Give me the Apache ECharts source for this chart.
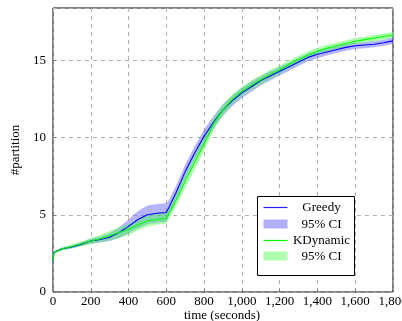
<!DOCTYPE html>
<html>
<head>
<meta charset="utf-8">
<script src="https://cdn.jsdelivr.net/npm/echarts@6/dist/echarts.min.js"></script>
<style>
  html, body { margin: 0; padding: 0; background: #fff; }
  #chart { width: 402px; height: 321px; }
</style>
</head>
<body>
<div id="chart"></div>
<script>
// time axis (seconds)
var times = [0, 5, 20, 50, 100, 150, 200, 250, 300, 350, 400, 450, 500, 550, 600, 615,
  650, 700, 750, 800, 850, 900, 950, 1000, 1050, 1100, 1150, 1200, 1250, 1300,
  1350, 1400, 1450, 1500, 1550, 1600, 1650, 1700, 1750, 1800];

// Greedy mean and CI half-width
var greedy = [2.0, 2.55, 2.65, 2.8, 2.92, 3.1, 3.3, 3.4, 3.55, 3.85, 4.25, 4.7, 5.0, 5.1, 5.15, 5.5,
  6.4, 7.8, 9.0, 10.1, 11.0, 11.8, 12.4, 12.9, 13.3, 13.7, 14.0, 14.3, 14.6, 14.9,
  15.2, 15.4, 15.55, 15.7, 15.85, 15.95, 16.0, 16.05, 16.15, 16.27];
var greedyCI = [0.05, 0.08, 0.08, 0.08, 0.1, 0.12, 0.15, 0.2, 0.25, 0.35, 0.45, 0.55, 0.6, 0.6, 0.6, 0.5,
  0.45, 0.45, 0.45, 0.45, 0.4, 0.38, 0.35, 0.33, 0.33, 0.3, 0.3, 0.28, 0.27, 0.25,
  0.25, 0.25, 0.23, 0.22, 0.22, 0.2, 0.2, 0.2, 0.2, 0.2];

// KDynamic mean and CI half-width
var kdyn = [2.0, 2.55, 2.64, 2.8, 2.95, 3.12, 3.3, 3.45, 3.65, 3.85, 4.05, 4.35, 4.6, 4.7, 4.78, 5.1,
  5.9, 7.2, 8.4, 9.6, 10.9, 11.8, 12.5, 13.0, 13.4, 13.75, 14.1, 14.4, 14.75, 15.05,
  15.35, 15.6, 15.8, 15.95, 16.1, 16.25, 16.35, 16.45, 16.55, 16.65];
var kdynCI = [0.05, 0.08, 0.08, 0.1, 0.12, 0.15, 0.2, 0.25, 0.3, 0.35, 0.35, 0.35, 0.35, 0.35, 0.35, 0.35,
  0.4, 0.45, 0.45, 0.45, 0.4, 0.35, 0.32, 0.3, 0.3, 0.3, 0.28, 0.27, 0.25, 0.25,
  0.25, 0.22, 0.22, 0.2, 0.2, 0.2, 0.2, 0.2, 0.2, 0.2];

function pairs(ys) {
  return times.map(function (t, i) { return [t, ys[i]]; });
}
function bandData(ys, ci) {
  return times.map(function (t, i) { return [t, ys[i] - ci[i], ys[i] + ci[i]]; });
}

var font = 'Liberation Serif';

// one polygon for the whole band, drawn when the first item is rendered
function band(name, data, color) {
  return {
    name: name, type: 'custom', silent: true, data: data,
    encode: { x: 0, y: [1, 2] },
    renderItem: function (params, api) {
      if (params.dataIndex !== 0) return null;
      var up = [], lo = [];
      for (var i = 0; i < data.length; i++) {
        up.push(api.coord([data[i][0], data[i][2]]));
        lo.unshift(api.coord([data[i][0], data[i][1]]));
      }
      return { type: 'polygon', shape: { points: up.concat(lo) }, style: { fill: color } };
    }
  };
}

var chart = echarts.init(document.getElementById('chart'));
chart.setOption({
  backgroundColor: '#fff',
  animation: false,
  grid: { left: 53, right: 9, top: 8, bottom: 29, outerBoundsMode: 'none', containLabel: false,
    show: true, borderColor: '#000', borderWidth: 1 },
  xAxis: {
    type: 'value', min: 0, max: 1800, interval: 200,
    axisLine: { show: false },
    axisTick: { inside: true, length: 3, lineStyle: { color: '#777' } },
    axisLabel: {
      fontFamily: font, fontSize: 13, color: '#000', margin: 3,
      formatter: function (v) { return v.toLocaleString('en-US'); }
    },
    splitLine: { lineStyle: { type: [4, 4], color: '#b0b0b0' } }
  },
  yAxis: {
    type: 'value', min: 0, max: 18.4, interval: 5,
    name: '#partition', nameLocation: 'middle', nameGap: 30,
    nameTextStyle: { fontFamily: font, fontSize: 13, color: '#000' },
    axisLine: { show: false },
    axisTick: { inside: true, length: 3, lineStyle: { color: '#777' } },
    axisLabel: { fontFamily: font, fontSize: 13, color: '#000', margin: 7, showMaxLabel: false },
    splitLine: { lineStyle: { type: [4, 4], color: '#b0b0b0' } }
  },
  series: [
    band('Greedy CI', bandData(greedy, greedyCI), 'rgba(90,90,255,0.45)'),
    band('KDynamic CI', bandData(kdyn, kdynCI), 'rgba(70,255,70,0.45)'),
    { name: 'Greedy', type: 'line', data: pairs(greedy), symbol: 'none', z: 3,
      lineStyle: { color: '#0000ff', width: 1.1 } },
    { name: 'KDynamic', type: 'line', data: pairs(kdyn), symbol: 'none', z: 3,
      lineStyle: { color: '#00ff00', width: 1.1 } }
  ],
  graphic: [{
    // x axis title
    type: 'text', x: 222, y: 309,
    style: { text: 'time (seconds)', align: 'center', verticalAlign: 'top', font: '13px "Liberation Serif"', fill: '#000' }
  }, {
    type: 'group', left: 257, top: 196, z: 100,
    children: [
      { type: 'rect', z: 100, shape: { x: 0, y: 0, width: 97, height: 79 },
        style: { fill: '#fff', stroke: '#000', lineWidth: 1 } },
      { type: 'line', z: 101, shape: { x1: 6, y1: 11, x2: 30, y2: 11 }, style: { stroke: '#2222ff', lineWidth: 1.2 } },
      { type: 'text', z: 101, style: { x: 64, y: 11, text: 'Greedy', align: 'center', verticalAlign: 'middle', font: '13px "Liberation Serif"', fill: '#000' } },
      { type: 'rect', z: 101, shape: { x: 6, y: 23, width: 24, height: 9 }, style: { fill: '#b0b0ff' } },
      { type: 'text', z: 101, style: { x: 64, y: 28, text: '95% CI', align: 'center', verticalAlign: 'middle', font: '13px "Liberation Serif"', fill: '#000' } },
      { type: 'line', z: 101, shape: { x1: 6, y1: 44, x2: 30, y2: 44 }, style: { stroke: '#00ff00', lineWidth: 1.2 } },
      { type: 'text', z: 101, style: { x: 64, y: 44, text: 'KDynamic', align: 'center', verticalAlign: 'middle', font: '13px "Liberation Serif"', fill: '#000' } },
      { type: 'rect', z: 101, shape: { x: 6, y: 55, width: 24, height: 9 }, style: { fill: '#b0ffb0' } },
      { type: 'text', z: 101, style: { x: 64, y: 60, text: '95% CI', align: 'center', verticalAlign: 'middle', font: '13px "Liberation Serif"', fill: '#000' } }
    ]
  }]
});
</script>
</body>
</html>
